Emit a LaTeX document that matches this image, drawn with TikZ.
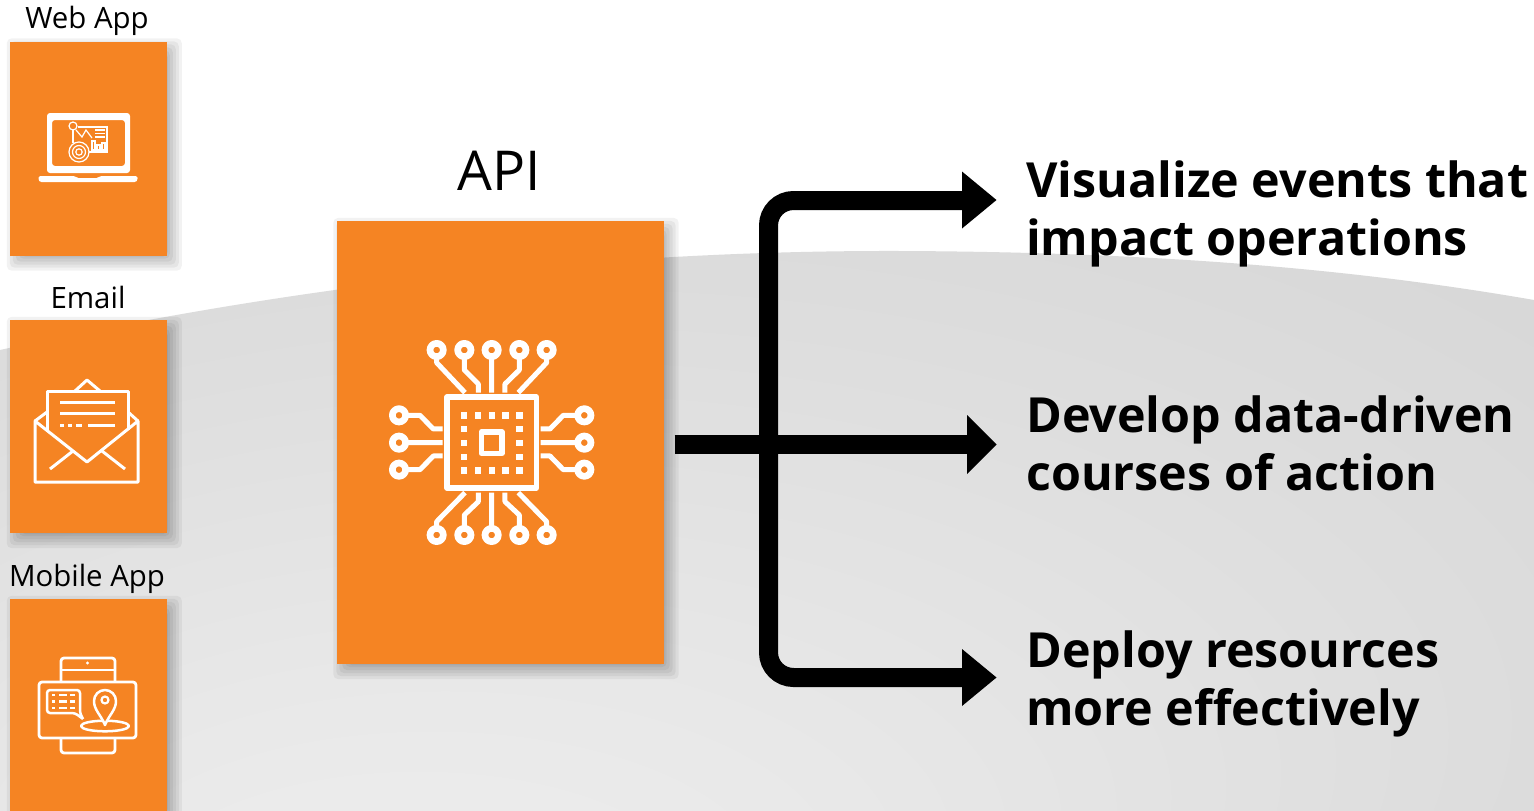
\documentclass[tikz,border=0pt]{standalone}
\usepackage{fontspec}
\setmainfont{Open Sans}
\pgfdeclarelayer{back}
\pgfsetlayers{back,main}
\definecolor{og}{HTML}{F58423}
\tikzset{
 card/.style={fill=og,draw=none,inner sep=0pt},
 ic/.style={draw=white,line width=#1,fill=none,line join=round},
 ic/.default=3pt,
 lbl/.style={anchor=center,text=black,font=\fontsize{29.4}{29.4}\selectfont,inner sep=0pt},
 big/.style={anchor=west,align=left,text=black,font=\fontsize{48.4}{58}\selectfont\bfseries,inner sep=0pt},
 conn/.style={line width=19pt,draw=black},
 head/.style={fill=black,draw=none},
}
\pgfdeclareradialshading{domeshade}{\pgfpoint{-12bp}{-30bp}}{
 color(0bp)=(black!6); color(12bp)=(black!9); color(25bp)=(black!13); color(40bp)=(black!17); color(50bp)=(black!19)}
\begin{document}
\begin{tikzpicture}[x=1pt,y=-1pt]
\useasboundingbox (0,0) rectangle (1534,811);
% cards
\node[card,minimum width=156.7pt,minimum height=214pt] (web) at (88.3,148.5) {};
\node[card,minimum width=156.7pt,minimum height=213pt] (email) at (88.3,426.5) {};
\node[card,minimum width=156.7pt,minimum height=214pt] (mobile) at (88.3,706) {};
\node[card,minimum width=327pt,minimum height=443pt] (api) at (500,442.5) {};
\begin{pgfonlayer}{back}
\fill[white] (0,0) rectangle (1534,811);
\begin{scope}
\clip (0,350) .. controls (250,295) and (560,250) .. (900,251) .. controls (1150,252) and (1350,268) .. (1534,300) -- (1534,811) -- (0,811) -- cycle;
\shade[shading=domeshade] (-100,100) rectangle (1634,900);
\end{scope}
\foreach \n in {web,email,mobile,api}{
 \foreach \r in {9,6,3,0,-3,-5}{
  \fill[black,opacity=.05,rounded corners=5pt] ([shift={(6-\r,6-\r)}]\n.north west) rectangle ([shift={(6+\r,6+\r)}]\n.south east);
 }
}
\end{pgfonlayer}
\node[lbl] (l1) at (87,21) {Web App};
\node[lbl] (l2) at (88,297) {Email};
\node[lbl] (l3) at (87,579) {Mobile App};
\node[lbl,font=\fontsize{55}{55}\selectfont] (l4) at (499,171) {API};
% laptop
\fill[white,even odd rule,rounded corners=3pt] (47,173) -- (47,113) -- (130,113) -- (130,173) -- cycle (52,166) -- (52,120) -- (125,120) -- (125,166) -- cycle;
\fill[white,rounded corners=1.5pt] (38.5,176) -- (75,176) -- (77,178) -- (98,178) -- (100,176) -- (137.5,176) -- (137.5,180) -- (136,182) -- (40,182) -- (38.5,180) -- cycle;
\begin{scope}[line width=1.2pt]
\draw[white] (73,126) circle (4);
\draw[white] (76,130) -- (82,137) -- (86,130) -- (92,138);
\draw[white] (78,127) -- (107,127) -- (107,152) -- (88,152);
\draw[white] (95,130) -- (105,130) (95,133.5) -- (105,133.5) (95,137) -- (105,137);
\draw[white] (73,130) -- (73,143);
\draw[white,fill=og] (79,152) circle (10);
\draw[white] (79,152) circle (6.5) (79,152) circle (3.2);
\draw[white] (92,141) rectangle (95,150) (97,145) rectangle (100,150) (102,143) rectangle (105,150);
\end{scope}
% envelope
\begin{scope}
\draw[ic=3pt] (35,421) -- (35,482) -- (138,482) -- (138,421) -- (87,462) -- cycle;
\draw[ic=3pt] (35,421) -- (47,412) (138,421) -- (128,412);
\draw[ic=3pt] (47,430) -- (47,391) -- (128,391) -- (128,430);
\draw[ic=3pt] (75,391) -- (87,380) -- (100,391);
\draw[ic=3pt] (60,402) -- (115,402) (60,413.5) -- (115,413.5);
\draw[ic=3pt] (60,425) -- (64,425) (68,425) -- (72,425) (76,425) -- (82,425) (88,425) -- (115,425);
\draw[ic=3pt] (50,469) -- (73,451) (125,469) -- (102,451);
\end{scope}
% mobile
\begin{scope}
\draw[ic=2.8pt,rounded corners=3pt] (61,682) -- (61,658) -- (115,658) -- (115,682);
\draw[ic=2.8pt] (61,670) -- (115,670);
\fill[white] (87.5,663) circle (1.7);
\draw[ic=2.8pt,rounded corners=3pt] (39,682) rectangle (136,738);
\draw[ic=2.8pt,rounded corners=3pt] (61,738) -- (61,753) -- (115,753) -- (115,738);
\draw[ic=2.5pt,rounded corners=3pt] (83,719) -- (80,713) -- (80,690) -- (47,690) -- (47,713) -- (75,713) -- (83,719);
\foreach \y in {695,701.5,708}{\draw[white,line width=2.2pt] (52,\y) -- (55,\y) (59,\y) -- (67,\y) (70,\y) -- (75,\y);}
\draw[ic=2.5pt] (105,726) ellipse (24 and 5.3);
\draw[ic=2.5pt,fill=og] (105,725) .. controls (101,715) and (94,710) .. (94,701) arc[start angle=180,end angle=360,radius=11] .. controls (116,710) and (109,715) .. (105,725) -- cycle;
\draw[ic=2.2pt] (105,700) circle (3.5);
\end{scope}
% chip
\begin{scope}[shift={(370,320)},x=0.3333pt,y=-0.3333pt]
\draw[ic=5.5pt] (231,231) rectangle (499,504);
\draw[ic=5.5pt] (334,336) rectangle (396,400);
\foreach \i in {0,1,2,3,4}{
 \fill[white] (273+\i*41.5,277) rectangle +(19,19);
 \fill[white] (273+\i*41.5,442) rectangle +(19,19);}
\foreach \i in {1,2,3}{
 \fill[white] (273,277+\i*41.5) rectangle +(19,19);
 \fill[white] (439,277+\i*41.5) rectangle +(19,19);}
\foreach \x in {200,283,365,448,530}{
 \draw[ic=6.7pt] (\x,90) circle (20);
 \draw[ic=6.7pt] (\x,645) circle (20);}
\foreach \y in {286,368,449}{
 \draw[ic=6.7pt] (87,\y) circle (20);
 \draw[ic=6.7pt] (643,\y) circle (20);}
\draw[ic=5pt] (200,112) -- (200,128) -- (285,218) (283,112) -- (283,150) -- (325,192) -- (325,218) (365,112) -- (365,218) (448,112) -- (448,150) -- (405,192) -- (405,218) (530,112) -- (530,128) -- (445,218);
\draw[ic=5pt] (200,623) -- (200,605) -- (285,518) (283,623) -- (283,585) -- (325,545) -- (325,518) (365,623) -- (365,518) (448,623) -- (448,585) -- (405,545) -- (405,518) (530,623) -- (530,605) -- (445,518);
\draw[ic=5pt] (109,286) -- (150,286) -- (190,327) -- (218,327) (109,368) -- (218,368) (109,449) -- (150,449) -- (190,408) -- (218,408);
\draw[ic=5pt] (621,286) -- (580,286) -- (540,327) -- (512,327) (621,368) -- (512,368) (621,449) -- (580,449) -- (540,408) -- (512,408);
\end{scope}
% connectors
\coordinate (hub) at (769,444.5);
\coordinate (t1) at (965,200.5);
\coordinate (t2) at (970,444.5);
\coordinate (t3) at (965,677.5);
\draw[conn,rounded corners=25pt] (t1) -- (768.5,200.5) -- (768.5,677.5) -- (t3);
\draw[conn] ([xshift=11pt]api.east |- hub) -- (t2);
\fill[head] (962,171.5) -- (996.5,200) -- (962,228.5) -- cycle;
\fill[head] (967,415) -- (996.5,444.5) -- (967,474) -- cycle;
\fill[head] (962,649) -- (996.5,677.5) -- (962,706) -- cycle;
% text
\node[big] (t1txt) at (1026,213.5) {Visualize events that\\impact operations};
\node[big] (t2txt) at (1026,443) {Develop data-driven\\courses of action};
\node[big] (t3txt) at (1026,683.5) {Deploy resources\\more effectively};
\end{tikzpicture}
\end{document}
